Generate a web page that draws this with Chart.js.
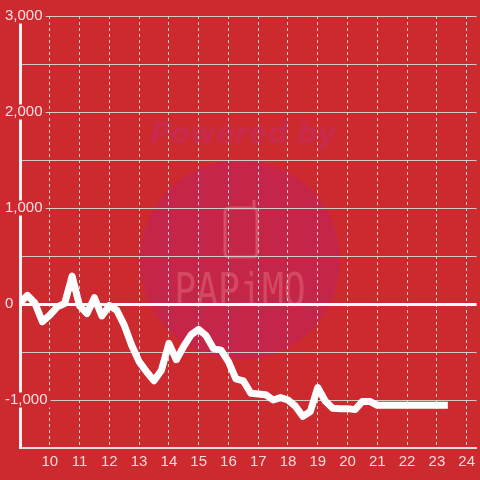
<!DOCTYPE html>
<html>
<head>
<meta charset="utf-8">
<script src="https://cdn.jsdelivr.net/npm/chart.js@4"></script>
<style>
  html, body { margin: 0; padding: 0; background: #cc2a2f; }
  #myChart { display: block; }
</style>
</head>
<body>
<canvas id="myChart" width="480" height="480"></canvas>
<script>
// hours of the day, one reading every 15 minutes
const hours = [
    9, 9.25, 9.5, 9.75, 10, 10.25, 10.5, 10.75, 11, 11.25, 11.5, 11.75,
    12, 12.25, 12.5, 12.75, 13, 13.25, 13.5, 13.75, 14, 14.25, 14.5, 14.75,
    15, 15.25, 15.5, 15.75, 16, 16.25, 16.5, 16.75, 17, 17.25, 17.5, 17.75,
    18, 18.25, 18.5, 18.75, 19, 19.25, 19.5, 19.75, 20, 20.25, 20.5, 20.75,
    21, 21.25, 21.5, 21.75, 22, 22.25, 22.5, 22.75, 23, 23.25
];
const values = [
    15, 90, 10, -185, -115, -30, 5, 290, -20, -100, 65, -125,
    -15, -65, -220, -430, -600, -705, -800, -690, -410, -580, -440, -320,
    -265, -330, -465, -480, -600, -780, -800, -930, -937, -945, -1000, -975,
    -1000, -1065, -1170, -1120, -870, -1010, -1085, -1090, -1090, -1100, -1015, -1015,
    -1055, -1055, -1055, -1055, -1055, -1055, -1055, -1055, -1055, -1055
];
const xTicks = [10, 11, 12, 13, 14, 15, 16, 17, 18, 19, 20, 21, 22, 23, 24];
const yTicks = [-1500, -1000, -500, 0, 500, 1000, 1500, 2000, 2500, 3000];
const yLabelled = [-1000, 0, 1000, 2000, 3000];

const bgColor = "#cc2a2f";

const watermark = {
    id: "watermark",
    beforeDraw(chart) {
        const c = chart.ctx;
        c.save();
        c.fillStyle = bgColor;
        c.fillRect(0, 0, chart.width, chart.height);

        c.fillStyle = "rgba(196, 36, 84, 0.75)";
        c.beginPath();
        c.arc(240, 260, 100, 0, Math.PI * 2);
        c.fill();

        c.fillStyle = "rgba(200, 42, 80, 0.85)";
        c.font = "italic bold 28px 'DejaVu Sans'";
        c.textAlign = "center";
        c.textBaseline = "alphabetic";
        c.fillText("Powered by", 243, 143);

        c.strokeStyle = "rgba(225, 110, 120, 0.6)";
        c.lineWidth = 3;
        c.beginPath();
        c.roundRect(225, 208, 32, 49, 4);
        c.moveTo(254, 208);
        c.lineTo(254, 200);
        c.stroke();

        // tall narrow lettering
        c.fillStyle = "rgba(225, 110, 120, 0.5)";
        c.font = "34px 'DejaVu Sans Mono'";
        c.translate(240, 306);
        c.scale(1.07, 1.35);
        c.fillText("PAPiMO", 0, 0);
        c.restore();
    }
};

const ctx = document.getElementById("myChart").getContext("2d");

const myChart = new Chart(ctx, {
    type: "line",
    data: {
        datasets: [{
            data: hours.map((h, i) => ({ x: h, y: values[i] })),
            borderColor: "#ffffff",
            borderWidth: 7,
            borderJoinStyle: "round",
            borderCapStyle: "square",
            pointRadius: 0,
            tension: 0,
            fill: false
        }]
    },
    options: {
        responsive: false,
        animation: false,
        layout: { padding: { left: 5, top: 16, right: 0, bottom: 0 } },
        plugins: {
            legend: { display: false },
            tooltip: { enabled: false }
        },
        scales: {
            x: {
                type: "linear",
                min: 9,
                max: 24 + 1 / 3,
                afterBuildTicks: (scale) => {
                    scale.ticks = xTicks.map(v => ({ value: v }));
                },
                afterFit: (scale) => { scale.height = 32; },
                grid: {
                    color: "rgba(225, 225, 225, 0.9)",
                    lineWidth: 1,
                    drawTicks: false
                },
                border: { color: "#dddddd", width: 2, dash: [3, 3] },
                ticks: {
                    color: "rgba(255, 235, 235, 0.9)",
                    font: { size: 15 },
                    padding: 5,
                    maxRotation: 0,
                    callback: (v) => String(v)
                }
            },
            y: {
                min: -1500,
                max: 3000,
                afterBuildTicks: (scale) => {
                    scale.ticks = yTicks.map(v => ({ value: v }));
                },
                afterFit: (scale) => { scale.width = 15; },
                grid: {
                    color: (c) => c.tick && c.tick.value === 0 ? "#ffffff" : "rgba(215, 215, 215, 0.9)",
                    lineWidth: (c) => c.tick && c.tick.value === 0 ? 3 : 1,
                    drawTicks: false
                },
                border: { color: "#f2f2f2", width: 3 },
                ticks: {
                    color: "rgba(255, 235, 235, 0.95)",
                    font: { size: 15, lineHeight: 1 },
                    mirror: true,
                    crossAlign: "near",
                    padding: -15,
                    showLabelBackdrop: true,
                    backdropColor: bgColor,
                    backdropPadding: { left: 3, right: 3, top: 0, bottom: 0 },
                    callback: (v) => yLabelled.includes(v) ? v.toLocaleString("en-US") : ""
                }
            }
        }
    },
    plugins: [watermark]
});
</script>
</body>
</html>
